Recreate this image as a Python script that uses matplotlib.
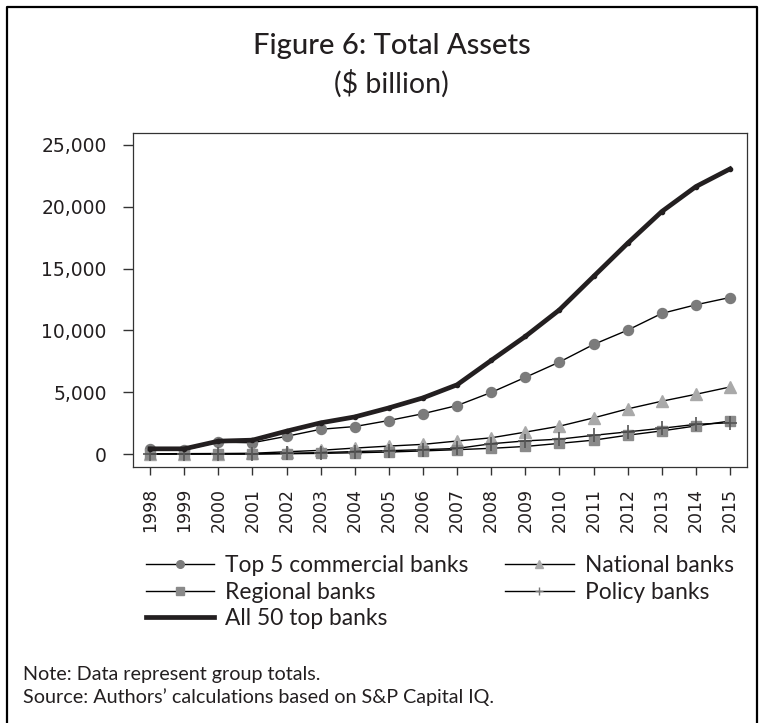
import matplotlib.pyplot as plt
from matplotlib.lines import Line2D
from matplotlib.ticker import FuncFormatter

# years on the x axis
years = list(range(1998, 2016))

# group totals, $ billion
top5 = [400, 330, 960, 910, 1430, 2000, 2220, 2710, 3260, 3920, 4980, 6200, 7440, 8860,
        10020, 11370, 12070, 12660]
national = [20, 30, 40, 60, 180, 300, 480, 640, 780, 1050, 1310, 1770, 2250, 2920,
            3650, 4270, 4830, 5420]
regional = [0, 0, 0, 0, 20, 50, 100, 160, 250, 350, 460, 610, 860, 1120,
            1520, 1870, 2270, 2670]
policy = [0, 0, 0, 0, 60, 110, 200, 270, 350, 450, 830, 1060, 1200, 1510,
          1790, 2080, 2400, 2530]
all50 = [420, 420, 1040, 1120, 1850, 2520, 3000, 3730, 4540, 5600, 7570, 9510, 11660,
         14360, 17050, 19610, 21630, 23060]

ytick_vals = [0, 5000, 10000, 15000, 20000, 25000]

font_main = ['Lato', 'DejaVu Sans']
font_tick = ['DejaVu Sans']
ink = '#231f20'

fig = plt.figure(figsize=(7.65, 7.23), dpi=100)
ax = fig.add_axes([0.1739, 0.3541, 0.8026, 0.462])

ax.plot(years, top5, color='black', lw=1.0, marker='o', ms=7.2, mfc='#7b7b7b', mec='#7b7b7b', zorder=3)
ax.plot(years, national, color='black', lw=1.0, marker='^', ms=8.5, mfc='#a9a9a9', mec='#a9a9a9', zorder=3)
ax.plot(years, regional, color='black', lw=1.0, marker='s', ms=7, mfc='#8a8a8a', mec='#8a8a8a', zorder=3)
ax.plot(years, policy, color='black', lw=1.0, marker='+', ms=10, mec='#555555', mew=1.2, zorder=4)
ax.plot(years, all50, color=ink, lw=3.4, marker='o', ms=3, mfc=ink, mec=ink, zorder=5)

ax.set_xlim(1997.5, 2015.5)
ax.set_ylim(-1050, 25970)
ax.set_xticks(years)
ax.set_xticklabels([str(y) for y in years], rotation=90, family=font_tick, fontsize=12.5, color=ink)
ax.set_yticks(ytick_vals)
ax.yaxis.set_major_formatter(FuncFormatter(lambda v, p: f"{int(v):,}"))
for lab in ax.get_yticklabels():
    lab.set_family(font_tick)
    lab.set_fontsize(13.5)
    lab.set_color(ink)
ax.tick_params(axis='y', length=7, width=1, pad=12, color='#333333')
ax.tick_params(axis='x', length=6, width=1, pad=9, color='#333333')
for sp in ax.spines.values():
    sp.set_linewidth(0.9)
    sp.set_color('#333333')

# legend (columns filled top to bottom)
handles = [
    Line2D([], [], color='black', lw=1.0, marker='o', ms=5.5, mfc='#7b7b7b', mec='#7b7b7b'),
    Line2D([], [], color='black', lw=1.0, marker='s', ms=5.5, mfc='#8a8a8a', mec='#8a8a8a'),
    Line2D([], [], color=ink, lw=3.4),
    Line2D([], [], color='black', lw=1.0, marker='^', ms=6, mfc='#a9a9a9', mec='#a9a9a9'),
    Line2D([], [], color='black', lw=1.0, marker='+', ms=6, mec='#777777'),
]
labels = ['Top 5 commercial banks', 'Regional banks', 'All 50 top banks',
          'National banks', 'Policy banks']
fig.legend(handles, labels, ncol=2, loc='upper left', bbox_to_anchor=(0.1905, 0.2324),
           frameon=False, prop={'family': font_main, 'size': 16.4}, handlelength=3.0,
           handletextpad=0.5, columnspacing=1.6, labelspacing=0.25, borderpad=0,
           borderaxespad=0, labelcolor=ink)

# titles
fig.text(0.512, 0.9253, 'Figure 6: Total Assets', ha='center', va='baseline',
         family=font_main, fontsize=21, fontweight='medium', color=ink)
fig.text(0.512, 0.8714, '($ billion)', ha='center', va='baseline',
         family=font_main, fontsize=20.5, color=ink)

# notes
fig.text(0.030, 0.0595, 'Note: Data represent group totals.', ha='left', va='baseline',
         family=font_main, fontsize=14.2, color=ink)
fig.text(0.030, 0.0277, 'Source: Authors\u2019 calculations based on S&P Capital IQ.', ha='left',
         va='baseline', family=font_main, fontsize=14.2, color=ink)

# outer border (open at the bottom)
fig.add_artist(Line2D([0.009, 0.009, 0.99, 0.99], [0.0, 0.99, 0.99, 0.0],
                      transform=fig.transFigure, color='black', lw=1.6))

fig.savefig('out.png', dpi=100)
